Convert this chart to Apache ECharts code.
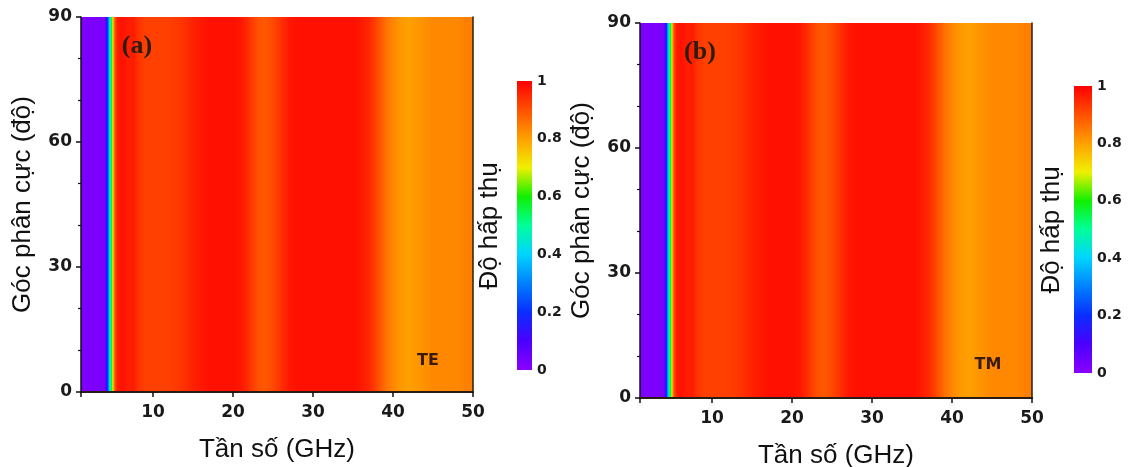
<!DOCTYPE html>
<html>
<head>
<meta charset="utf-8">
<script src="https://cdn.jsdelivr.net/npm/echarts@6/dist/echarts.min.js"></script>
<style>html,body{margin:0;padding:0;background:#fff}#c{width:1129px;height:467px}</style>
</head>
<body>
<div id="c"></div>
<script>
// ---- data ----
const freq = [1, 2, 3, 4, 4.2, 4.4, 4.6, 4.8, 5.0, 5.2, 5.5, 6, 7, 7.5, 8, 9, 10, 11, 12, 13, 14, 15, 16, 17, 18, 19, 20,
  21, 22, 23, 24, 25, 26, 27, 28, 29, 30, 31, 32, 33, 34, 35, 36, 37, 38, 39, 40, 41, 42, 43, 44, 45, 46, 47, 48, 49, 50];
const teAbs = [0.02, 0.02, 0.02, 0.03, 0.15, 0.3, 0.45, 0.6, 0.75, 0.9, 0.96, 0.98, 0.96, 0.97, 0.94, 0.92, 0.92, 0.92, 0.92, 0.93, 0.94, 0.96, 0.97, 0.98, 0.98, 0.98, 0.98,
  0.97, 0.94, 0.90, 0.89, 0.91, 0.94, 0.97, 0.98, 0.98, 0.98, 0.98, 0.98, 0.98, 0.98, 0.98, 0.97, 0.95, 0.91, 0.86, 0.83, 0.81, 0.80, 0.81, 0.82, 0.83, 0.83, 0.83, 0.83, 0.84, 0.84];
const tmAbs = [0.02, 0.02, 0.02, 0.03, 0.15, 0.3, 0.45, 0.6, 0.75, 0.9, 0.96, 0.98, 0.96, 0.97, 0.94, 0.92, 0.92, 0.92, 0.92, 0.93, 0.94, 0.96, 0.97, 0.98, 0.98, 0.98, 0.98,
  0.97, 0.94, 0.90, 0.89, 0.91, 0.94, 0.97, 0.98, 0.98, 0.98, 0.98, 0.98, 0.98, 0.98, 0.98, 0.97, 0.95, 0.91, 0.86, 0.83, 0.81, 0.80, 0.81, 0.82, 0.83, 0.83, 0.83, 0.83, 0.84, 0.84];
const angleRange = [0, 90];
const xTickLabels = [10, 20, 30, 40, 50];
const yTickLabels = [0, 30, 60, 90];
const cbTickLabels = [0, 0.2, 0.4, 0.6, 0.8, 1];
const palette = ['#8a00ff', '#4a00ff', '#0a2dff', '#0080ff', '#00d4ff', '#00ff9a', '#10f000', '#f0f000', '#ffa000', '#ff5000', '#ff0000'];
const panelLabels = ['(a)', '(b)'];
const modeLabels = ['TE', 'TM'];
const xName = 'Tần số (GHz)';
const yName = 'Góc phân cực (độ)';
const cbName = 'Độ hấp thụ';

// ---- helpers ----
function hexToRgb(h) { return [parseInt(h.slice(1, 3), 16), parseInt(h.slice(3, 5), 16), parseInt(h.slice(5, 7), 16)]; }
const palRgb = palette.map(hexToRgb);
function colorAt(v) {
  v = Math.max(0, Math.min(1, v));
  const p = v * (palRgb.length - 1);
  const i = Math.min(Math.floor(p), palRgb.length - 2);
  const t = p - i;
  const a = palRgb[i], b = palRgb[i + 1];
  return 'rgb(' + [0, 1, 2].map(k => Math.round(a[k] + (b[k] - a[k]) * t)).join(',') + ')';
}
function segs(abs) {
  const out = [];
  for (let i = 0; i < freq.length - 1; i++) out.push([freq[i], freq[i + 1], abs[i], abs[i + 1]]);
  return out;
}
function renderHeat(params, api) {
  const f0 = api.value(0), f1 = api.value(1), a0 = api.value(2), a1 = api.value(3);
  const p0 = api.coord([f0, angleRange[1]]);
  const p1 = api.coord([f1, angleRange[0]]);
  const stops = [];
  for (let k = 0; k <= 8; k++) { const t = k / 8; stops.push({ offset: t, color: colorAt(a0 + (a1 - a0) * t) }); }
  const extra = params.dataIndex < freq.length - 2 ? 0.8 : 0;
  return {
    type: 'rect',
    shape: { x: p0[0], y: p0[1], width: p1[0] - p0[0] + extra, height: p1[1] - p0[1] },
    style: { fill: { type: 'linear', x: 0, y: 0, x2: 1, y2: 0, colorStops: stops } }
  };
}
function renderBar(params, api) {
  const p0 = api.coord([0, 1]);
  const p1 = api.coord([1, 0]);
  const stops = palette.map((c, i) => ({ offset: i / (palette.length - 1), color: palette[palette.length - 1 - i] }));
  return {
    type: 'rect',
    shape: { x: p0[0], y: p0[1], width: p1[0] - p0[0], height: p1[1] - p0[1] },
    style: { fill: { type: 'linear', x: 0, y: 0, x2: 0, y2: 1, colorStops: stops } }
  };
}

const tickFont = { fontFamily: 'DejaVu Sans', fontWeight: 'bold', fontSize: 17, color: '#1a1a1a' };
const nameFont = { fontFamily: 'Liberation Sans', fontSize: 26, color: '#111' };
const frame = '#2a1c12';

const grids = [
  { left: 81, top: 17, width: 392, height: 375, outerBoundsMode: 'none', containLabel: false },
  { left: 640, top: 23, width: 392, height: 375, outerBoundsMode: 'none', containLabel: false },
  { left: 517, top: 81, width: 15, height: 289, outerBoundsMode: 'none', containLabel: false },
  { left: 1074, top: 86, width: 18, height: 287, outerBoundsMode: 'none', containLabel: false }
];

function mainX(gi) {
  return [{
    type: 'value', gridIndex: gi, min: freq[0], max: freq[freq.length - 1], position: 'bottom', z: 10,
    name: xName, nameLocation: 'middle', nameGap: 45, nameTextStyle: nameFont,
    splitLine: { show: false },
    axisLine: { lineStyle: { color: '#111', width: 1.5 } },
    axisTick: { show: true, length: 5, inside: false, lineStyle: { color: '#111', width: 1.5 } },
    axisLabel: Object.assign({ margin: 12, formatter: v => xTickLabels.indexOf(v) >= 0 ? String(v) : '' }, tickFont)
  }, {
    type: 'value', gridIndex: gi, min: freq[0], max: freq[freq.length - 1], position: 'top', z: 10,
    splitLine: { show: false }, axisTick: { show: false }, axisLabel: { show: false },
    axisLine: { lineStyle: { color: frame, width: 2 } }
  }];
}
function mainY(gi) {
  return [{
    type: 'value', gridIndex: gi, min: angleRange[0], max: angleRange[1], interval: 30, position: 'left', z: 10,
    name: yName, nameLocation: 'middle', nameGap: 45, nameTextStyle: nameFont,
    splitLine: { show: false },
    axisLine: { lineStyle: { color: '#111', width: 1.5 } },
    axisTick: { show: true, length: 5, lineStyle: { color: '#111', width: 1.5 } },
    minorTick: { show: true, splitNumber: 3, length: 3, lineStyle: { color: '#111', width: 1.2 } },
    axisLabel: Object.assign({ margin: 9, formatter: v => yTickLabels.indexOf(v) >= 0 ? String(v) : '' }, tickFont)
  }, {
    type: 'value', gridIndex: gi, min: angleRange[0], max: angleRange[1], position: 'right', z: 10,
    splitLine: { show: false }, axisTick: { show: false }, axisLabel: { show: false },
    axisLine: { lineStyle: { color: frame, width: 1.5 } }
  }];
}
function cbX(gi) {
  return { type: 'value', gridIndex: gi, min: 0, max: 1, show: false };
}
function cbY(gi) {
  return {
    type: 'value', gridIndex: gi, min: 0, max: 1, interval: 0.2, position: 'right',
    splitLine: { show: false }, axisLine: { show: false }, axisTick: { show: false },
    axisLabel: Object.assign({ margin: 5, formatter: v => { const m = cbTickLabels.find(t => Math.abs(t - v) < 1e-6); return m === undefined ? '' : String(m); } },
      tickFont, { fontSize: 14 })
  };
}

const option = {
  backgroundColor: '#ffffff',
  animation: false,
  grid: grids,
  xAxis: [...mainX(0), ...mainX(1), cbX(2), cbX(3)],
  yAxis: [...mainY(0), ...mainY(1), cbY(2), cbY(3)],
  series: [
    { type: 'custom', name: 'TE', xAxisIndex: 0, yAxisIndex: 0, z: 1, renderItem: renderHeat, data: segs(teAbs), encode: { x: [0, 1] }, silent: true },
    { type: 'custom', name: 'TM', xAxisIndex: 2, yAxisIndex: 2, z: 1, renderItem: renderHeat, data: segs(tmAbs), encode: { x: [0, 1] }, silent: true },
    { type: 'custom', name: 'cb1', xAxisIndex: 4, yAxisIndex: 4, renderItem: renderBar, data: [[0, 1]], encode: { x: 0, y: 1 }, silent: true },
    { type: 'custom', name: 'cb2', xAxisIndex: 5, yAxisIndex: 5, renderItem: renderBar, data: [[0, 1]], encode: { x: 0, y: 1 }, silent: true }
  ],
  graphic: [
    { type: 'text', x: 137, y: 46, z: 20, style: { text: panelLabels[0], font: 'bold 26px "Liberation Serif"', fill: '#2b1d14', align: 'center', verticalAlign: 'middle' } },
    { type: 'text', x: 700, y: 52, z: 20, style: { text: panelLabels[1], font: 'bold 26px "Liberation Serif"', fill: '#2b1d14', align: 'center', verticalAlign: 'middle' } },
    { type: 'text', x: 428, y: 361, z: 20, style: { text: modeLabels[0], font: 'bold 16px "DejaVu Sans"', fill: '#3a1a08', align: 'center', verticalAlign: 'middle' } },
    { type: 'text', x: 988, y: 365, z: 20, style: { text: modeLabels[1], font: 'bold 16px "DejaVu Sans"', fill: '#3a1a08', align: 'center', verticalAlign: 'middle' } },
    { type: 'text', x: 490, y: 226, rotation: Math.PI / 2, z: 20, style: { text: cbName, font: '26px "Liberation Sans"', fill: '#111', align: 'center', verticalAlign: 'middle' } },
    { type: 'text', x: 1052, y: 230, rotation: Math.PI / 2, z: 20, style: { text: cbName, font: '26px "Liberation Sans"', fill: '#111', align: 'center', verticalAlign: 'middle' } }
  ]
};
const chart = echarts.init(document.getElementById('c'), null, { renderer: 'canvas' });
chart.setOption(option);
</script>
</body>
</html>
